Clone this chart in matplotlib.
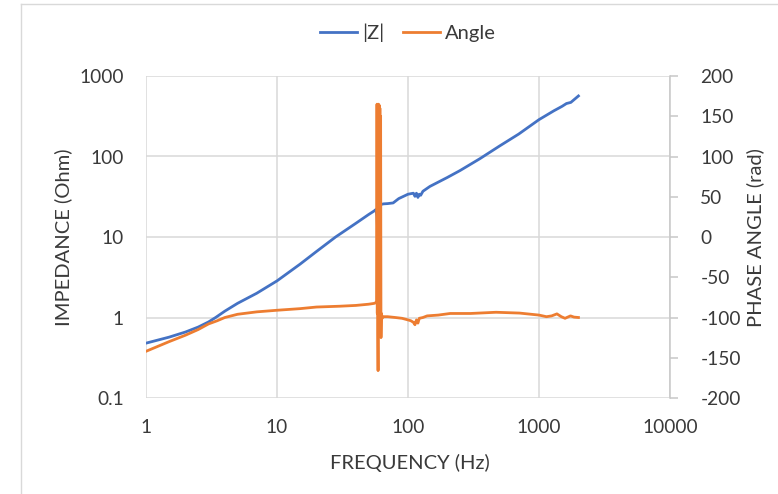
import matplotlib
matplotlib.use("Agg")
import matplotlib.pyplot as plt
from matplotlib.lines import Line2D
from matplotlib.ticker import FixedLocator, FixedFormatter, MultipleLocator, NullLocator

plt.rcParams['font.family'] = ['Lato', 'DejaVu Sans']
plt.rcParams['axes.unicode_minus'] = False

# impedance magnitude, Ohm
z_freq = [1, 1.5, 2, 2.5, 3, 3.4, 4, 5, 7, 10, 15, 20, 28, 40, 50, 55, 57,
          58, 58.5, 59.5, 60.5, 61.5, 63, 65, 70, 77, 85, 100, 110, 113, 116,
          119, 122, 125, 130, 147, 200, 250, 354, 500, 700, 1000, 1300, 1500,
          1620, 1750, 2000]
z_mag = [0.48, 0.57, 0.66, 0.76, 0.88, 1.0, 1.2, 1.5, 2.0, 2.85, 4.6, 6.6, 10,
         14.8, 19, 21, 22, 18, 13, 100, 15, 26, 25.5, 25.8, 26, 26.5, 30, 34,
         35, 32, 35, 31, 34, 33, 37, 42.5, 55, 67, 94, 135, 190, 287, 370, 420,
         455, 470, 565]

# phase angle
ang_freq = [1, 1.5, 2, 2.5, 3, 3.5, 4, 5, 7, 10, 15, 20, 30, 40, 50, 55, 57,
            57.7, 58, 58.3, 58.6, 58.9, 59.1, 59.4, 59.8, 60.2, 60.6, 61, 61.4,
            61.8, 62.2, 62.6, 63.5, 65, 70, 80, 90, 100, 105, 110, 113, 116,
            119, 122, 130, 140, 170, 210, 300, 470, 710, 1000, 1140, 1250,
            1370, 1480, 1580, 1740, 1850, 2000]
ang_val = [-142, -130, -122, -115, -108, -104, -100, -96, -93, -91, -89, -87,
           -86, -85, -83.5, -82.5, -81.5, -80, 165, -95, 163, -120, -166, 165,
           -110, 164, -100, 160, -105, 150, -125, -95, -101, -99, -99, -100,
           -101, -103, -104, -106, -109, -103, -107, -101, -100, -98, -97, -95,
           -95, -93.5, -94.5, -97, -99, -98, -95.5, -99, -101, -98, -99.5, -100]

x_ticks = [1, 10, 100, 1000, 10000]
y_ticks = [0.1, 1, 10, 100, 1000]

BLUE = '#4472C4'
ORANGE = '#ED7D31'
GRID = '#d9d9d9'
TEXT = '#3a3a3a'
TICK_FS = 13.8
LABEL_FS = 14.5

fig = plt.figure(figsize=(7.78, 4.94), dpi=100)
ax = fig.add_axes([146 / 778, 1 - 398 / 494, 524 / 778, 322 / 494])
ax2 = ax.twinx()

ax.plot(z_freq, z_mag, color=BLUE, lw=2.0, label='|Z|')
ax2.plot(ang_freq, ang_val, color=ORANGE, lw=2.0, label='Angle')

ax.set_xscale('log')
ax.set_yscale('log')
ax.set_xlim(1, 10000)
ax.set_ylim(0.1, 1000)
ax2.set_ylim(-200, 200)

ax.xaxis.set_major_locator(FixedLocator(x_ticks))
ax.xaxis.set_major_formatter(FixedFormatter([f'{v:g}' for v in x_ticks]))
ax.xaxis.set_minor_locator(NullLocator())
ax.yaxis.set_major_locator(FixedLocator(y_ticks))
ax.yaxis.set_major_formatter(FixedFormatter([f'{v:g}' for v in y_ticks]))
ax.yaxis.set_minor_locator(NullLocator())
ax2.yaxis.set_major_locator(MultipleLocator(50))

ax.grid(True, which='major', color=GRID, lw=1.1)
ax.set_axisbelow(True)
for a in (ax, ax2):
    for s in ('top', 'left', 'bottom', 'right'):
        a.spines[s].set_visible(False)
ax2.spines['right'].set_visible(True)
ax2.spines['right'].set_color('#c8c8c8')
ax2.spines['right'].set_linewidth(1.1)

ax.tick_params(axis='x', length=0, pad=15, labelsize=TICK_FS, labelcolor=TEXT)
ax.tick_params(axis='y', length=0, pad=16, labelsize=TICK_FS, labelcolor=TEXT)
ax2.tick_params(axis='y', length=5.8, width=1.1, color='#c8c8c8', pad=16,
                labelsize=TICK_FS, labelcolor=TEXT)

ax.set_xlabel('FREQUENCY (Hz)', fontsize=LABEL_FS, color=TEXT, va='center')
ax.xaxis.set_label_coords((410 - 146) / 524, (398 - 463) / 322)
ax.set_ylabel('IMPEDANCE (Ohm)', fontsize=LABEL_FS, color=TEXT, va='center')
ax.yaxis.set_label_coords((63 - 146) / 524, (398 - 237) / 322)
ax2.set_ylabel('PHASE ANGLE (rad)', fontsize=LABEL_FS, color=TEXT, va='center')
ax2.yaxis.set_label_coords((755 - 146) / 524, (398 - 238) / 322)

handles = [Line2D([], [], color=BLUE, lw=2.0), Line2D([], [], color=ORANGE, lw=2.0)]
fig.legend(handles, ['|Z|', 'Angle'], loc='center', ncol=2,
           bbox_to_anchor=(408 / 778, 1 - 33 / 494), frameon=False,
           fontsize=LABEL_FS, handlelength=1.85, handletextpad=0.25,
           columnspacing=0.9, labelcolor=TEXT)

# chart area border
fig.add_artist(Line2D([21 / 778, 21 / 778], [0, 1 - 4 / 494],
                      transform=fig.transFigure, color=GRID, lw=1.0))
fig.add_artist(Line2D([21 / 778, 1], [1 - 4 / 494, 1 - 4 / 494],
                      transform=fig.transFigure, color=GRID, lw=1.0))

fig.savefig('out.png', dpi=100)
